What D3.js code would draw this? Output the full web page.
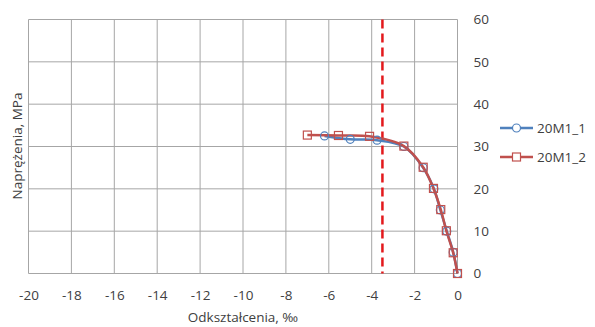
<!DOCTYPE html>
<html><head><meta charset="utf-8">
<script src="https://cdn.jsdelivr.net/npm/d3@7"></script>
<style>body{margin:0;background:#fff}svg{display:block}text{font-family:"Open Sans",Lato,sans-serif;fill:#404040}</style>
</head><body><svg id="c" width="595" height="327"></svg>
<script>
const seriesNames = ["20M1_1", "20M1_2"];
const s1x = [-6.2, -5.0, -3.75, -2.5, -1.6, -1.1, -0.8, -0.5, -0.2, 0];
const s1y = [32.5, 31.7, 31.5, 30.0, 25.0, 20.0, 15.0, 10.0, 5.0, 0];
const s2x = [-7.0, -5.55, -4.1, -2.5, -1.6, -1.12, -0.78, -0.52, -0.2, 0];
const s2y = [32.7, 32.6, 32.4, 30.1, 25.1, 20.1, 15.1, 10.1, 4.9, 0];
const xTicks = [-20, -18, -16, -14, -12, -10, -8, -6, -4, -2, 0];
const yTicks = [0, 10, 20, 30, 40, 50, 60];
const limitX = -3.5;
const colors = ["#4F81BD", "#C0504D"];

const svg = d3.select("#c");
const x = d3.scaleLinear().domain([-20, 0]).range([28.5, 457.5]);
const y = d3.scaleLinear().domain([0, 60]).range([273.5, 19.5]);

// grid
svg.append("g").selectAll("line").data(xTicks).join("line")
  .attr("x1", d => x(d)).attr("x2", d => x(d)).attr("y1", y(0)).attr("y2", y(60))
  .attr("stroke", "#A6A6A6").attr("stroke-width", 1);
svg.append("g").selectAll("line").data(yTicks).join("line")
  .attr("x1", x(-20)).attr("x2", x(0)).attr("y1", d => y(d)).attr("y2", d => y(d))
  .attr("stroke", "#A6A6A6").attr("stroke-width", 1);

// x axis
const xa = svg.append("g").attr("transform", `translate(0,${y(0)})`)
  .call(d3.axisBottom(x).tickValues(xTicks).tickSize(0).tickPadding(17).tickFormat(d => String(d)));
xa.select(".domain").remove();
xa.selectAll("text").attr("font-size", 13.5).style("font-family", '"Open Sans",sans-serif').attr("fill", "#404040");

// y axis at right
const ya = svg.append("g").attr("transform", `translate(${x(0)},0)`)
  .call(d3.axisRight(y).tickValues(yTicks).tickSize(0).tickPadding(16).tickFormat(d => String(d)));
ya.select(".domain").remove();
ya.selectAll("text").attr("font-size", 13.5).style("font-family", '"Open Sans",sans-serif').attr("fill", "#404040");

// limit line
svg.append("line").attr("x1", x(limitX)).attr("x2", x(limitX)).attr("y1", y(60)).attr("y2", y(0))
  .attr("stroke", "#E3191C").attr("stroke-width", 2.5).attr("stroke-dasharray", "9,5");

const data = [s1x.map((v, i) => [v, s1y[i]]), s2x.map((v, i) => [v, s2y[i]])];
const line = d3.line().x(d => x(d[0])).y(d => y(d[1])).curve(d3.curveCatmullRom.alpha(0.5));

data.forEach((pts, k) => {
  svg.append("path").attr("d", line(pts)).attr("fill", "none")
    .attr("stroke", colors[k]).attr("stroke-width", 2.5);
});
// markers
svg.append("g").selectAll("circle").data(data[0]).join("circle")
  .attr("cx", d => x(d[0])).attr("cy", d => y(d[1])).attr("r", 4)
  .attr("fill", "none").attr("stroke", colors[0]).attr("stroke-width", 1.2);
svg.append("g").selectAll("rect").data(data[1]).join("rect")
  .attr("x", d => x(d[0]) - 4).attr("y", d => y(d[1]) - 4).attr("width", 8).attr("height", 8)
  .attr("fill", "none").attr("stroke", colors[1]).attr("stroke-width", 1.2);

// legend
const lg = svg.append("g");
seriesNames.forEach((n, i) => {
  const ly = 128 + i * 29;
  lg.append("line").attr("x1", 500).attr("x2", 533).attr("y1", ly).attr("y2", ly)
    .attr("stroke", colors[i]).attr("stroke-width", 2.5);
  if (i === 0) lg.append("circle").attr("cx", 516.5).attr("cy", ly).attr("r", 4)
    .attr("fill", "#fff").attr("stroke", colors[i]).attr("stroke-width", 1.2);
  else lg.append("rect").attr("x", 512.5).attr("y", ly - 4).attr("width", 8).attr("height", 8)
    .attr("fill", "#fff").attr("stroke", colors[i]).attr("stroke-width", 1.2);
  lg.append("text").attr("x", 537).attr("y", ly).attr("dy", "0.35em").attr("font-size", 13.5).text(n);
});

// axis titles
svg.append("text").attr("x", 243).attr("y", 322).attr("text-anchor", "middle").attr("font-size", 13.5)
  .text("Odkształcenia, ‰");
svg.append("text").attr("transform", "translate(17,146) rotate(-90)").attr("text-anchor", "middle")
  .attr("dy", "0.35em").attr("font-size", 13.5).text("Naprężenia, MPa");
</script></body></html>
